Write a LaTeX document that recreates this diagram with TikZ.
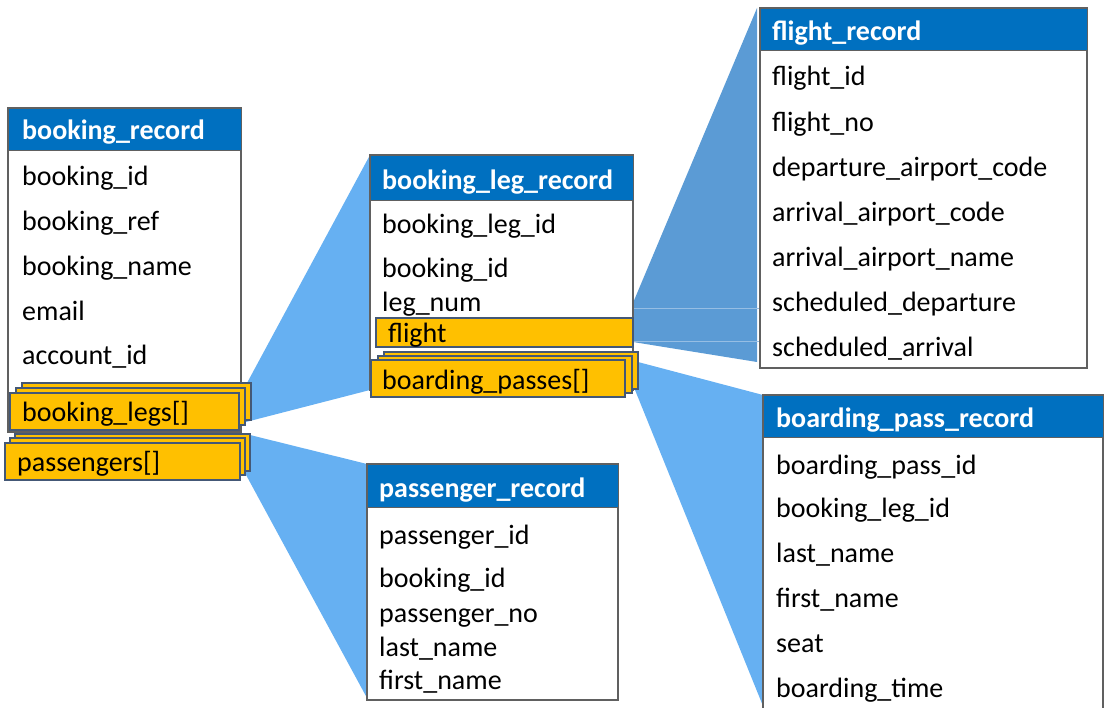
\documentclass[tikz,border=0pt]{standalone}
\usepackage{fontspec}
\setmainfont{Carlito}
\usetikzlibrary{calc,backgrounds}
\definecolor{headblue}{RGB}{0,112,192}
\definecolor{framegray}{RGB}{96,96,96}
\definecolor{arrayfill}{RGB}{255,192,0}
\definecolor{arrayline}{RGB}{68,88,118}
\definecolor{fanblue}{RGB}{102,176,242}
\definecolor{fandark}{RGB}{91,155,213}
\definecolor{fanedge}{RGB}{150,190,228}
\tikzset{
  frame/.style={draw=framegray, line width=1.2pt, fill=white, anchor=north west,
    inner sep=0pt, outer sep=0pt},
  head/.style={fill=headblue, draw=framegray, line width=0.8pt, anchor=north west,
    inner sep=0pt, outer sep=0pt},
  headtext/.style={anchor=mid west, inner sep=0pt, yshift=-7pt, text=white,
    font=\fontsize{28}{32}\selectfont\bfseries},
  field/.style={anchor=mid west, inner sep=0pt, yshift=-7pt, text=black},
  arraybox/.style={fill=arrayfill, draw=arrayline, line width=1.2pt, anchor=north west,
    inner sep=0pt, outer sep=0pt},
  fan/.style={fill=fanblue, draw=none},
  fandk/.style={fill=fandark, draw=none}
}
\begin{document}
\begin{tikzpicture}[x=1pt, y=-1pt, font=\fontsize{28}{32}\selectfont]
\clip (0,0) rectangle (1107,708);

% ---------- booking_record ----------
\node[frame, minimum width=233pt, minimum height=324pt] (br) at (8,108) {};
\node[head, minimum width=233pt, minimum height=42pt] (brh) at (8,108) {};
\node[headtext] (brt) at (22,130) {booking\_record};
\foreach \t/\y [count=\i] in {booking\_id/176, booking\_ref/221, booking\_name/266,
    email/311, account\_id/355}
  \node[field] (br\i) at (22,\y) {\t};

% booking_legs[] stack
\node[arraybox, minimum width=229pt, minimum height=37pt] (legsC) at (22,383) {};
\node[arraybox, minimum width=229pt, minimum height=37pt] (legsB) at (16,388) {};
\node[arraybox, minimum width=229pt, minimum height=37pt] (legs) at (10,393) {};
\node[field] (legst) at (22,412) {booking\_legs[]};

% passengers[] stack
\node[arraybox, minimum width=235pt, minimum height=37pt] (pasC) at (15,434) {};
\node[arraybox, minimum width=235pt, minimum height=37pt] (pasB) at (10,438) {};
\node[arraybox, minimum width=235pt, minimum height=37pt] (pas) at (5,443) {};
\node[field] (past) at (17,462) {passengers[]};

% ---------- booking_leg_record ----------
\node[frame, minimum width=263pt, minimum height=235pt] (blr) at (370,155) {};
\node[head, minimum width=263pt, minimum height=45pt] (blrh) at (370,155) {};
\node[headtext] (blrt) at (382,180) {booking\_leg\_record};
\foreach \t/\y [count=\i] in {booking\_leg\_id/224, booking\_id/268, leg\_num/302}
  \node[field] (blr\i) at (382,\y) {\t};

\node[arraybox, minimum width=257pt, minimum height=29pt] (flt) at (376,318) {};
\node[field] (fltt) at (388,333) {flight};

\node[arraybox, minimum width=254pt, minimum height=37pt] (bpC) at (384,352) {};
\node[arraybox, minimum width=254pt, minimum height=37pt] (bpB) at (378,356) {};
\node[arraybox, minimum width=254pt, minimum height=37pt] (bp) at (371,360) {};
\node[field] (bpt) at (382,380) {boarding\_passes[]};

% ---------- flight_record ----------
\node[frame, minimum width=327pt, minimum height=360pt] (fr) at (760,8) {};
\node[head, minimum width=327pt, minimum height=42pt] (frh) at (760,8) {};
\node[headtext] (frt) at (772,31) {flight\_record};
\foreach \t/\y [count=\i] in {flight\_id/76, flight\_no/122, departure\_airport\_code/167,
    arrival\_airport\_code/212, arrival\_airport\_name/257, scheduled\_departure/302,
    scheduled\_arrival/347}
  \node[field] (fr\i) at (772,\y) {\t};

% ---------- passenger_record ----------
\node[frame, minimum width=251pt, minimum height=236pt] (pr) at (367,464) {};
\node[head, minimum width=251pt, minimum height=43pt] (prh) at (367,464) {};
\node[headtext] (prt) at (379,488) {passenger\_record};
\foreach \t/\y [count=\i] in {passenger\_id/535, booking\_id/578, passenger\_no/613,
    last\_name/647, first\_name/680}
  \node[field] (pr\i) at (379,\y) {\t};

% ---------- boarding_pass_record ----------
\node[frame, minimum width=340pt, minimum height=320pt] (bpr) at (763,395) {};
\node[head, minimum width=340pt, minimum height=42pt] (bprh) at (763,395) {};
\node[headtext] (bprt) at (776,418) {boarding\_pass\_record};
\foreach \t/\y [count=\i] in {boarding\_pass\_id/465, booking\_leg\_id/508, last\_name/553,
    first\_name/598, seat/643, boarding\_time/688}
  \node[field] (bpr\i) at (776,\y) {\t};

% ---------- fans from array fields to the records they hold ----------
\begin{pgfonlayer}{background}
  % booking_legs[] -> booking_leg_record
  \fill[fan] ($(legsC.north east)+(-4,0)$) -- (blr.north west) -- (blr.south west)
    -- ($(legs.south east)+(3,-7)$) -- cycle;
  % passengers[] -> passenger_record
  \fill[fan] ($(pasC.north east)+(-8,-1)$) -- (pr.north west) -- ($(pr.south west)+(0,-2)$)
    -- ($(pas.south east)+(5,-7)$) -- cycle;
  % boarding_passes[] -> boarding_pass_record
  \fill[fan] ($(bpC.north east)+(0,10)$) -- (bpr.north west) -- ($(bpr.south west)+(0,-9)$)
    -- ($(bpC.south east)+(-3,1)$) -- cycle;
  % flight -> flight_record
  \fill[fandk] ($(flt.north east)+(-3,-8)$) -- ($(fr.north west)+(-3,0)$)
    -- ($(fr.south west)+(-3,-6)$) -- ($(flt.south east)+(0,-5)$) -- cycle;
  \coordinate (fa) at ($(flt.north east)+(0,-10)$);
  \coordinate (fb) at ($(flt.south east)+(0,-6)$);
  \draw[fanedge, line width=0.8pt] (fa) -- (fa -| fr.west);
  \draw[fanedge, line width=0.8pt] (fb) -- (fb -| fr.west);
\end{pgfonlayer}
\end{tikzpicture}
\end{document}
